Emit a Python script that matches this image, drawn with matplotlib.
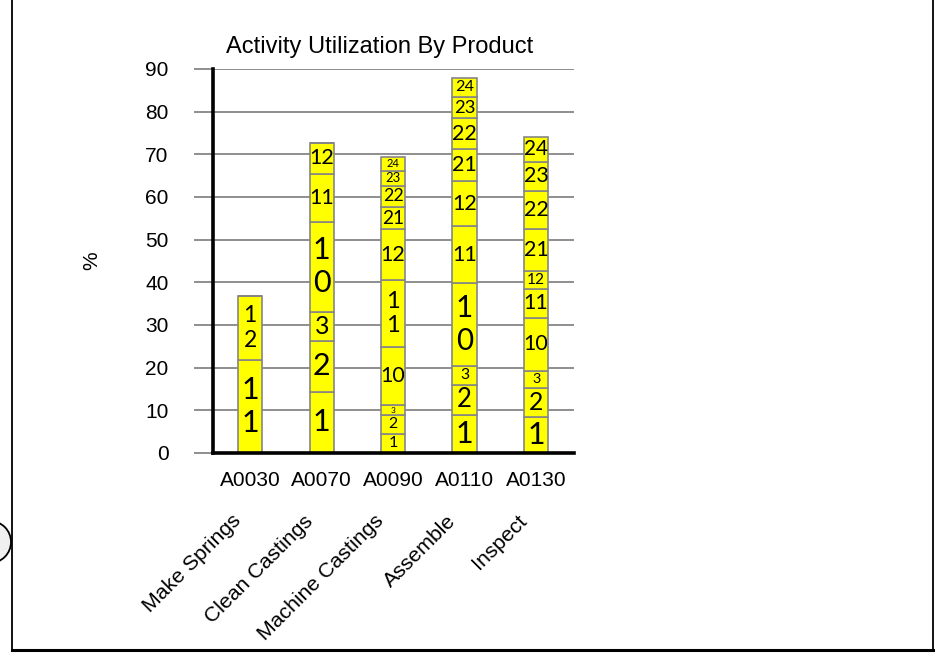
import numpy as np
import pandas as pd
import matplotlib
matplotlib.use("Agg")
import matplotlib.pyplot as plt
from matplotlib.lines import Line2D
from matplotlib.patches import Circle


# =========================
# DATA
# =========================
codes = ["A0030", "A0070", "A0090", "A0110", "A0130"]
names = ["Make Springs", "Clean Castings", "Machine Castings", "Assemble", "Inspect"]
products = ["1", "2", "3", "10", "11", "12", "21", "22", "23", "24"]

# utilization (%) of each activity by product, stacked bottom to top
prod_1 = [0, 14.4, 4.5, 8.9, 8.4]
prod_2 = [0, 11.8, 4.4, 7.1, 6.9]
prod_3 = [0, 6.9, 2.3, 4.4, 4.0]
prod_10 = [0, 21.1, 13.7, 19.4, 12.4]
prod_11 = [21.8, 11.2, 15.6, 13.4, 6.7]
prod_12 = [15.0, 7.3, 11.9, 10.5, 4.3]
prod_21 = [0, 0, 5.3, 7.5, 9.7]
prod_22 = [0, 0, 4.9, 7.2, 9.0]
prod_23 = [0, 0, 3.6, 5.1, 6.9]
prod_24 = [0, 0, 3.1, 4.5, 5.7]

yticks = [0, 10, 20, 30, 40, 50, 60, 70, 80, 90]

df = pd.DataFrame(
    [prod_1, prod_2, prod_3, prod_10, prod_11, prod_12,
     prod_21, prod_22, prod_23, prod_24],
    index=products, columns=codes
)

AXIS_FONT = "Liberation Sans"
BAR_FONT = "Lato"
GRID = "#868686"


def label_style(text, h):
    # wrap two digit labels in tall segments, size text to the segment
    if len(text) == 2 and h > 14.5:
        return "\n".join(text), min(1.1 * h, 22)
    if len(text) == 2:
        return text, max(min(2.6 * h, 15.5), 5)
    return text, max(min(2.6 * h, 22), 5)


fig = plt.figure(figsize=(9.38, 6.6), dpi=100)
ax = fig.add_axes([213 / 938, 207 / 660, 361 / 938, 384 / 660])

x = np.arange(len(codes))
bottom = np.zeros(len(codes))
for prod in products:
    vals = df.loc[prod].values
    ax.bar(x, vals, width=0.34, bottom=bottom, color="#FFFF00",
           edgecolor=GRID, linewidth=1.2, zorder=3)
    for i, h in enumerate(vals):
        if h <= 0:
            continue
        txt, fs = label_style(prod, h)
        ax.text(x[i], bottom[i] + h / 2, txt, ha="center", va="center",
                fontsize=fs, family=BAR_FONT, linespacing=1.2, zorder=4)
    bottom += vals

ax.set_xlim(-0.52, 4.53)
ax.set_ylim(0, 90)
ax.set_yticks(yticks)
ax.set_xticks(x)
ax.set_xticklabels(codes, family=AXIS_FONT, fontsize=15)
ax.set_yticklabels([str(t) for t in yticks], family=AXIS_FONT, fontsize=15)

ax.yaxis.grid(True, color=GRID, linewidth=1.3, zorder=0)
ax.tick_params(axis="y", length=14, width=1.3, color=GRID, pad=18)
ax.tick_params(axis="x", length=0, pad=13)
for side in ["top", "right"]:
    ax.spines[side].set_visible(False)
ax.spines["left"].set_linewidth(2.6)
ax.spines["bottom"].set_linewidth(2.6)
ax.spines["left"].set_zorder(5)
ax.spines["bottom"].set_zorder(5)

ax.set_ylabel("%", family=AXIS_FONT, fontsize=15)
ax.yaxis.set_label_coords(-0.31, 0.5)

fig.text(380 / 938, 1 - 47 / 660, "Activity Utilization By Product",
         ha="center", va="center", family=AXIS_FONT, fontsize=17)

# second level of the category axis: activity names
for i, name in enumerate(names):
    ax.annotate(name, xy=(x[i], 0), xycoords="data",
                xytext=(-12, -65), textcoords="offset pixels",
                rotation=45, rotation_mode="anchor", ha="right", va="center",
                family=AXIS_FONT, fontsize=15.3, annotation_clip=False)

# outer frame and the small shape on the left edge
fig.add_artist(Line2D([12 / 938, 12 / 938], [10 / 660, 1.0], color="black",
                      linewidth=1.3, transform=fig.transFigure))
fig.add_artist(Line2D([933 / 938, 933 / 938], [10 / 660, 1.0], color="black",
                      linewidth=1.3, transform=fig.transFigure))
fig.add_artist(Line2D([12 / 938, 933 / 938], [10 / 660, 10 / 660], color="black",
                      linewidth=2.2, transform=fig.transFigure))
fig.add_artist(Circle((-0.10, 1.18), 0.21, facecolor="#f0f0f0", edgecolor="black",
                      linewidth=1.3, transform=fig.dpi_scale_trans))

fig.savefig("out.png", dpi=100)
